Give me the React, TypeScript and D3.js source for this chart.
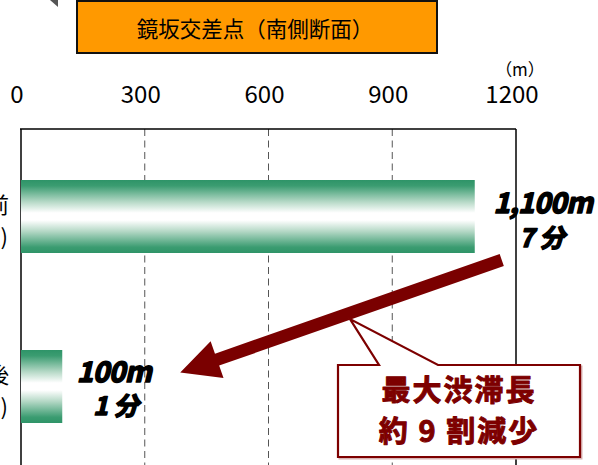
import React from "react";
import * as d3 from "d3";

const categories = ["整備前", "整備後"];
const subLabels = ["(H19)", "(H22)"];
const lengths = [1100, 100];
const lengthLabels = ["1,100m", "100m"];
const timeLabels = ["7 分", "1 分"];
const ticks = [0, 300, 600, 900, 1200];
const title = "鏡坂交差点（南側断面）";
const unitLabel = "（m）";
const calloutLines = ["最大渋滞長", "約 9 割減少"];

const W = 598;
const H = 465;
const JP = "'Noto Sans CJK JP', 'Noto Sans', sans-serif";
const DARKRED = "#7d0000";

function Slanted({ x, y, size, text, spacing = 0 }: { x: number; y: number; size: number; text: string; spacing?: number }) {
  return (
    <g transform={`translate(${x},${y}) skewX(-13)`}>
      <text x={0} y={0} textAnchor="middle" fontSize={size} letterSpacing={spacing}>
        {text}
      </text>
    </g>
  );
}

export default function App() {
  const x = d3.scaleLinear().domain([0, 1200]).range([21, 516]);
  const y = d3.scalePoint<string>().domain(categories).range([216.5, 386.5]);
  const barH = 73;
  const plotTop = 129;

  // arrow geometry
  const start: [number, number] = [x(lengths[0]) + 27, (y(categories[0]) as number) + barH / 2 + 7];
  const tip: [number, number] = [x(lengths[1]) + 118, (y(categories[1]) as number) - 14];
  const dx = tip[0] - start[0];
  const dy = tip[1] - start[1];
  const len = Math.hypot(dx, dy);
  const ux = dx / len, uy = dy / len;
  const nx = -uy, ny = ux;
  const headLen = 39, headHalf = 19.5, shaftHalf = 6.3;
  const bx = tip[0] - ux * headLen, by = tip[1] - uy * headLen;
  const arrowPts: [number, number][] = [
    [start[0] + nx * shaftHalf, start[1] + ny * shaftHalf],
    [bx + nx * shaftHalf, by + ny * shaftHalf],
    [bx + nx * headHalf, by + ny * headHalf],
    tip,
    [bx - nx * headHalf, by - ny * headHalf],
    [bx - nx * shaftHalf, by - ny * shaftHalf],
    [start[0] - nx * shaftHalf, start[1] - ny * shaftHalf],
  ];
  const arrowPath = d3.line()(arrowPts) + "Z";

  // callout
  const cb = { x0: 338, x1: 580, y0: 365, y1: 457 };
  const ptr = { a: 379, b: 438, tx: 350, ty: 319 };
  const calloutPath = `M${cb.x0},${cb.y0}L${ptr.a},${cb.y0}L${ptr.tx},${ptr.ty}L${ptr.b},${cb.y0}L${cb.x1},${cb.y0}L${cb.x1},${cb.y1}L${cb.x0},${cb.y1}Z`;
  const cx = (cb.x0 + cb.x1) / 2;

  return (
    <svg
      width={W}
      height={H}
      style={{ position: "absolute", left: 0, top: 0, background: "#fff" }}
      fontFamily={JP}
    >
      <defs>
        <linearGradient id="barGrad" x1="0" y1="0" x2="0" y2="1">
          <stop offset="0" stopColor="#2e9468" />
          <stop offset="0.08" stopColor="#3b9c71" />
          <stop offset="0.3" stopColor="#b6d9c7" />
          <stop offset="0.45" stopColor="#ffffff" />
          <stop offset="0.55" stopColor="#ffffff" />
          <stop offset="0.7" stopColor="#b6d9c7" />
          <stop offset="0.92" stopColor="#3b9c71" />
          <stop offset="1" stopColor="#2e9468" />
        </linearGradient>
      </defs>

      {/* top grey arrow tip fragment */}
      <polygon points="50,0 58,0 58,7" fill="#555" />

      {/* title box */}
      <rect x={77} y={1} width={360} height={52} fill="#ff9900" stroke="#111" strokeWidth={2} />
      <text x={255} y={37} textAnchor="middle" fontSize={21.5} fill="#000">
        {title}
      </text>

      {/* tick labels */}
      {ticks.map((t) => (
        <text key={t} x={x(t) - 4} y={103} textAnchor="middle" fontSize={24} fill="#000">
          {t}
        </text>
      ))}
      <text x={520} y={76} textAnchor="middle" fontSize={17} fill="#000">
        {unitLabel}
      </text>

      {/* grid */}
      {ticks.slice(1, -1).map((t) => (
        <line key={t} x1={x(t)} x2={x(t)} y1={plotTop} y2={H} stroke="#555" strokeWidth={1} strokeDasharray="7,4.5" />
      ))}
      <line x1={x(0) - 1} x2={x(1200)} y1={plotTop} y2={plotTop} stroke="#000" strokeWidth={1.5} />
      <line x1={x(0)} x2={x(0)} y1={plotTop} y2={H} stroke="#000" strokeWidth={1.5} />
      <line x1={x(1200)} x2={x(1200)} y1={plotTop} y2={H} stroke="#000" strokeWidth={1.5} />

      {/* bars */}
      {categories.map((c, i) => (
        <rect
          key={c}
          x={x(0)}
          y={(y(c) as number) - barH / 2}
          width={x(lengths[i]) - x(0)}
          height={barH}
          fill="url(#barGrad)"
        />
      ))}

      {/* category labels (clipped at left edge) */}
      {categories.map((c, i) => (
        <g key={c} fontSize={22} fill="#000">
          <text x={9} y={(y(c) as number) - 4} textAnchor="end">{c}</text>
          <text x={8} y={(y(c) as number) + 28} textAnchor="end">{subLabels[i]}</text>
        </g>
      ))}

      {/* value labels */}
      <g fontWeight={700} fill="#000" stroke="#000" strokeWidth={1.6} strokeLinejoin="round" paintOrder="stroke fill">
        <Slanted x={543} y={213} size={28} text={lengthLabels[0]} spacing={-0.5} />
        <Slanted x={542} y={247} size={25} text={timeLabels[0]} />
        <Slanted x={114} y={382} size={28} text={lengthLabels[1]} spacing={-0.5} />
        <Slanted x={116} y={415} size={25} text={timeLabels[1]} />
      </g>

      {/* arrow */}
      <path d={arrowPath} fill="#7a0000" />

      {/* callout */}
      <path d={calloutPath} transform="translate(1.5,1.5)" fill="none" stroke="#d9b3b3" strokeWidth={2} />
      <path d={calloutPath} fill="#fff" stroke={DARKRED} strokeWidth={2.2} strokeLinejoin="miter" />
      <g fill={DARKRED} fontWeight={700} textAnchor="middle" fontSize={29} letterSpacing={2} stroke={DARKRED} strokeWidth={1} strokeLinejoin="round" paintOrder="stroke fill">
        <text x={cx} y={401}>{calloutLines[0]}</text>
        <text x={cx} y={442}>{calloutLines[1]}</text>
      </g>
    </svg>
  );
}
